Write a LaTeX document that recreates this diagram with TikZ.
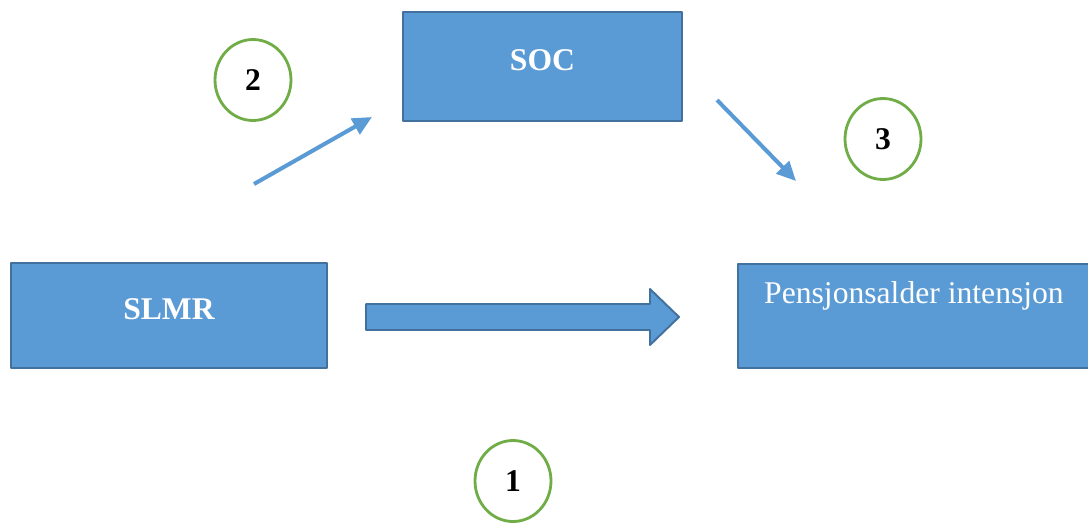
\documentclass[tikz,border=0pt]{standalone}
\usepackage{fontspec}
\setmainfont{Liberation Serif}
\usetikzlibrary{arrows.meta, positioning, calc, shapes.geometric}

\definecolor{boxblue}{HTML}{5B9BD5}
\definecolor{boxedge}{HTML}{41719C}
\definecolor{ringgreen}{HTML}{70AD47}

\tikzset{
    varbox/.style={draw=boxedge, line width=1.1pt, fill=boxblue, text=white,
        font=\fontsize{18}{21}\selectfont},
    ring/.style={ellipse, draw=ringgreen, line width=1.6pt, fill=white,
        minimum width=1.52cm, minimum height=1.62cm, inner sep=0pt,
        font=\fontsize{18}{21}\selectfont\bfseries},
    thinarrow/.style={draw=boxblue, line width=2.3pt, line cap=butt,
        -{Triangle[length=11pt, width=10pt]}}
}

\begin{document}
\begin{tikzpicture}[x=0.02cm, y=-0.02cm, line join=round]
    \useasboundingbox (0,0) rectangle (1088,522);

    % boxes
    \node[varbox, minimum width=5.58cm, minimum height=2.18cm, text depth=7pt,
        font=\fontsize{18}{21}\selectfont\bfseries] (soc) at (542.5,66.5) {SOC};
    \node[varbox, minimum width=6.32cm, minimum height=2.10cm, text depth=7pt,
        font=\fontsize{18}{21}\selectfont\bfseries] (slmr) at (169,315.5) {SLMR};
    \node[varbox, minimum width=7.1cm, minimum height=2.08cm, anchor=north west]
        (pens) at (737,263) {};
    \node[text=white, font=\fontsize{18}{21}\selectfont] (penstxt) at (914,296) {Pensjonsalder intensjon};

    % numbered rings
    \node[ring] (r1) at (513,481) {1};
    \node[ring] (r2) at (253,80) {2};
    \node[ring] (r3) at (883,139) {3};

    % thin arrows
    \coordinate (a2s) at (254,184);
    \coordinate (a2e) at (372,117);
    \coordinate (a3s) at (717,100);
    \coordinate (a3e) at (796,181);
    \draw[thinarrow] (a2s) -- (a2e);
    \draw[thinarrow] (a3s) -- (a3e);

    % block arrow
    \coordinate (bs) at (366,317);
    \coordinate (bt) at (679,317);
    \draw[draw=boxedge, line width=1.1pt, fill=boxblue]
        ($(bs)+(0,-13)$) -- ($(bt)+(-29,-13)$) -- ($(bt)+(-29,-28)$) -- (bt)
        -- ($(bt)+(-29,28)$) -- ($(bt)+(-29,13)$) -- ($(bs)+(0,13)$) -- cycle;
\end{tikzpicture}
\end{document}
